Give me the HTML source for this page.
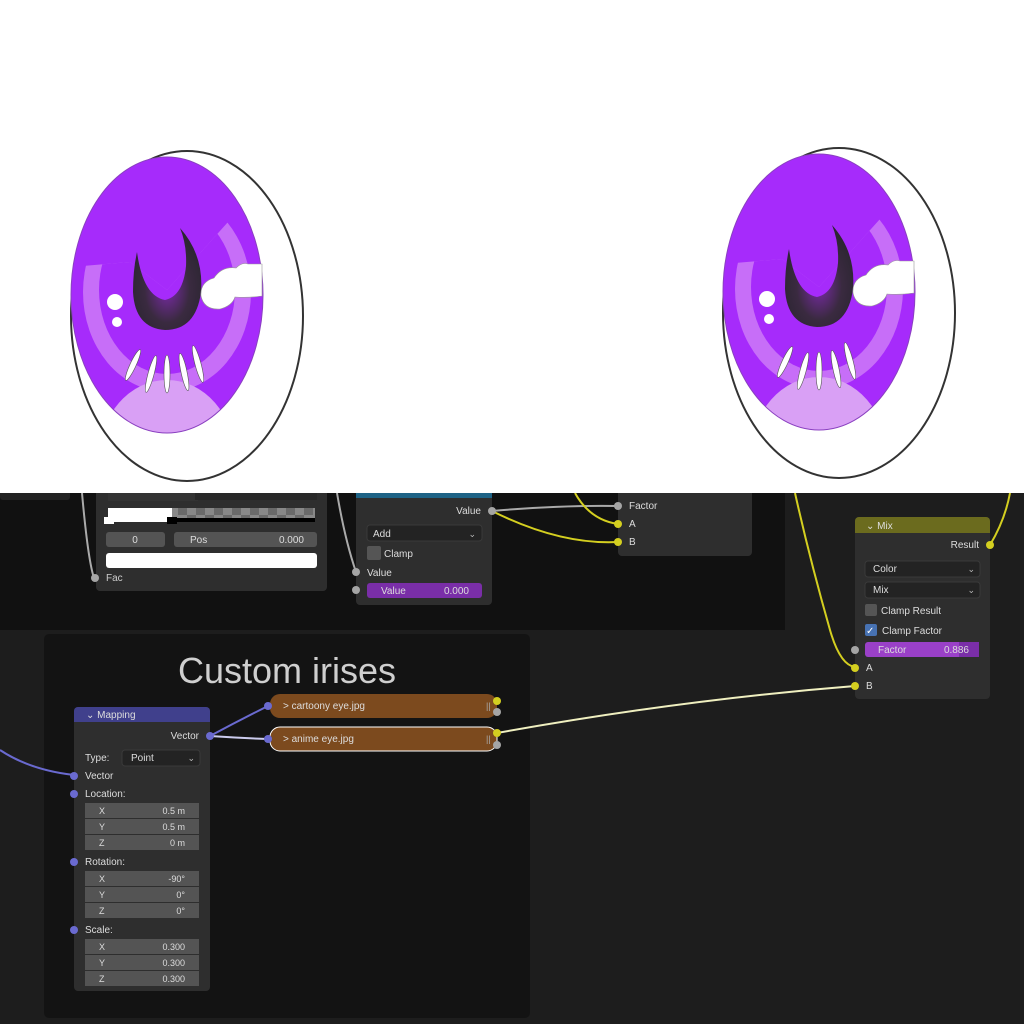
<!DOCTYPE html>
<html><head><meta charset="utf-8"><style>
html,body{margin:0;padding:0;background:#1d1d1d;}
svg{display:block;}
text{font-family:"Liberation Sans",sans-serif;}
</style></head><body>
<svg width="1024" height="1024" viewBox="0 0 1024 1024" xmlns="http://www.w3.org/2000/svg">
<defs>
<radialGradient id="pup" cx="0.5" cy="0.6" r="0.6">
<stop offset="0" stop-color="#7a2aa8"/><stop offset="0.55" stop-color="#3a2a40"/><stop offset="1" stop-color="#2a2530"/>
</radialGradient>
<clipPath id="irisclip"><ellipse cx="167" cy="295" rx="96" ry="138"/></clipPath>
<clipPath id="ringclip"><polygon points="60,268 130,262 167,290 228,222 262,222 262,440 60,440"/></clipPath>
<g id="eye">
<ellipse cx="187" cy="316" rx="116" ry="165" fill="#fff" stroke="#333" stroke-width="2"/>
<g clip-path="url(#irisclip)">
<rect x="60" y="150" width="205" height="290" fill="#a62bfb"/>
<g clip-path="url(#ringclip)">
<ellipse cx="167" cy="292" rx="84" ry="100" fill="#c76ef8"/>
<ellipse cx="167" cy="290" rx="68" ry="84" fill="#a62bfb"/>
</g>
<ellipse cx="167" cy="458" rx="68" ry="78" fill="#d9a0f5"/>
</g>
<ellipse cx="167" cy="295" rx="96" ry="138" fill="none" stroke="#8a40c0" stroke-width="1"/>
<path d="M180,228 Q204,255 201,292 Q196,330 165,330 Q135,328 133,292 Q133,270 137,252 Q143,296 165,300 Q183,296 186,266 Q187,245 180,228 Z" fill="url(#pup)"/>
<path d="M262,264 L248,264 Q242,262 236,268 Q222,266 214,278 Q200,282 201,296 Q204,310 220,309 Q232,306 235,297 Q248,298 262,296 Z" fill="#fff" stroke="#999" stroke-width="0.6"/>
<circle cx="115" cy="302" r="8" fill="#fff"/>
<circle cx="117" cy="322" r="5" fill="#fff"/>
<g fill="#fff" stroke="#555" stroke-width="0.6">
<ellipse cx="133" cy="365" rx="3" ry="17" transform="rotate(25 133 365)"/>
<ellipse cx="151" cy="374" rx="3" ry="19" transform="rotate(15 151 374)"/>
<ellipse cx="167" cy="374" rx="3" ry="19"/>
<ellipse cx="184" cy="372" rx="3" ry="19" transform="rotate(-12 184 372)"/>
<ellipse cx="198" cy="364" rx="3" ry="19" transform="rotate(-15 198 364)"/>
</g>
</g>
</defs>

<rect x="0" y="0" width="1024" height="1024" fill="#1d1d1d"/>
<rect x="0" y="480" width="785" height="150" fill="#111"/>
<rect x="0" y="480" width="70" height="20" rx="3" fill="#222"/>
<rect x="44" y="634" width="486" height="384" rx="5" fill="#131313"/>
<text x="287" y="683" font-size="36" fill="#cfcfcf" text-anchor="middle">Custom irises</text>

<path d="M82,493 Q88,560 94,578" stroke="#aaa" stroke-width="2" fill="none"/>
<path d="M337,493 Q345,540 356,572" stroke="#aaa" stroke-width="2" fill="none"/>
<path d="M492,511 Q560,505 618,506" stroke="#aaa" stroke-width="2" fill="none"/>
<path d="M492,511 Q560,545 618,542" stroke="#d4cf20" stroke-width="2" fill="none"/>
<path d="M575,493 Q590,520 618,524" stroke="#d4cf20" stroke-width="2" fill="none"/>
<path d="M795,493 Q810,560 830,630 Q840,665 855,667" stroke="#d4cf20" stroke-width="2" fill="none"/>
<path d="M990,545 Q1005,520 1010,493" stroke="#d4cf20" stroke-width="2" fill="none"/>
<path d="M497,733 Q680,700 855,686" stroke="#f0f0c0" stroke-width="2" fill="none"/>
<path d="M0,750 Q30,770 74,775" stroke="#6a6ad0" stroke-width="2" fill="none"/>
<path d="M210,736 Q240,720 268,706" stroke="#6a6ad0" stroke-width="2" fill="none"/>
<path d="M210,736 Q240,738 268,739" stroke="#ccccee" stroke-width="2" fill="none"/>

<rect x="96" y="480" width="231" height="111" rx="4" fill="#2e2e2e"/>
<rect x="108" y="493" width="90" height="8" fill="#333"/>
<rect x="255" y="486" width="62" height="14" fill="#282828"/>
<rect x="195" y="486" width="60" height="14" fill="#282828"/>
<rect x="108" y="508" width="207" height="14" fill="#888"/>
<g fill="#6a6a6a">
<rect x="178" y="508" width="9" height="7"/><rect x="196" y="508" width="9" height="7"/><rect x="214" y="508" width="9" height="7"/><rect x="232" y="508" width="9" height="7"/><rect x="250" y="508" width="9" height="7"/><rect x="268" y="508" width="9" height="7"/><rect x="286" y="508" width="9" height="7"/><rect x="304" y="508" width="9" height="7"/>
<rect x="187" y="515" width="9" height="7"/><rect x="205" y="515" width="9" height="7"/><rect x="223" y="515" width="9" height="7"/><rect x="241" y="515" width="9" height="7"/><rect x="259" y="515" width="9" height="7"/><rect x="277" y="515" width="9" height="7"/><rect x="295" y="515" width="9" height="7"/>
</g>
<rect x="108" y="508" width="64" height="14" fill="#fff"/>
<rect x="172" y="518" width="143" height="4" fill="#000"/>
<rect x="104" y="517" width="10" height="7" fill="#fff"/>
<rect x="167" y="517" width="10" height="7" fill="#000"/>
<rect x="106" y="532" width="59" height="15" rx="3" fill="#545454"/>
<text x="135" y="543" font-size="10" fill="#ddd" text-anchor="middle">0</text>
<rect x="174" y="532" width="143" height="15" rx="3" fill="#545454"/>
<text x="190" y="543" font-size="10" fill="#ddd">Pos</text>
<text x="304" y="543" font-size="10" fill="#ddd" text-anchor="end">0.000</text>
<rect x="106" y="553" width="211" height="15" rx="3" fill="#fff"/>
<circle cx="95" cy="578" r="4" fill="#a5a5a5"/>
<text x="106" y="581" font-size="10" fill="#ccc">Fac</text>

<rect x="356" y="480" width="136" height="125" rx="4" fill="#2e2e2e"/>
<rect x="356" y="480" width="136" height="18" fill="#1e6386"/>
<text x="481" y="514" font-size="10" fill="#ddd" text-anchor="end">Value</text>
<circle cx="492" cy="511" r="4" fill="#a5a5a5"/>
<rect x="367" y="525" width="115" height="16" rx="3" fill="#232323" stroke="#3a3a3a"/>
<text x="373" y="537" font-size="10" fill="#ddd">Add</text>
<text x="476" y="537" font-size="9" fill="#bbb" text-anchor="end">⌄</text>
<rect x="367" y="546" width="14" height="14" rx="2" fill="#555"/>
<text x="384" y="557" font-size="10" fill="#ddd">Clamp</text>
<circle cx="356" cy="572" r="4" fill="#a5a5a5"/>
<text x="367" y="576" font-size="10" fill="#ddd">Value</text>
<circle cx="356" cy="590" r="4" fill="#a5a5a5"/>
<rect x="367" y="583" width="115" height="15" rx="3" fill="#7a2ea8"/>
<text x="381" y="594" font-size="10" fill="#ddd">Value</text>
<text x="469" y="594" font-size="10" fill="#ddd" text-anchor="end">0.000</text>

<rect x="618" y="480" width="134" height="76" rx="4" fill="#2e2e2e"/>
<circle cx="618" cy="506" r="4" fill="#a5a5a5"/><text x="629" y="509" font-size="10" fill="#ddd">Factor</text>
<circle cx="618" cy="524" r="4" fill="#d4cf20"/><text x="629" y="527" font-size="10" fill="#ddd">A</text>
<circle cx="618" cy="542" r="4" fill="#d4cf20"/><text x="629" y="545" font-size="10" fill="#ddd">B</text>

<rect x="855" y="517" width="135" height="182" rx="4" fill="#2e2e2e"/>
<path d="M855,521 a4,4 0 0 1 4,-4 h127 a4,4 0 0 1 4,4 v12 h-135z" fill="#6b6b1e"/>
<text x="866" y="529" font-size="10" fill="#ddd">⌄ Mix</text>
<text x="979" y="548" font-size="10" fill="#ddd" text-anchor="end">Result</text>
<circle cx="990" cy="545" r="4" fill="#d4cf20"/>
<rect x="865" y="561" width="115" height="16" rx="3" fill="#232323" stroke="#3a3a3a"/>
<text x="873" y="572" font-size="10" fill="#ddd">Color</text><text x="975" y="572" font-size="9" fill="#bbb" text-anchor="end">⌄</text>
<rect x="865" y="582" width="115" height="16" rx="3" fill="#232323" stroke="#3a3a3a"/>
<text x="873" y="593" font-size="10" fill="#ddd">Mix</text><text x="975" y="593" font-size="9" fill="#bbb" text-anchor="end">⌄</text>
<rect x="865" y="604" width="12" height="12" rx="2" fill="#555"/>
<text x="881" y="614" font-size="10" fill="#ddd">Clamp Result</text>
<rect x="865" y="624" width="12" height="12" rx="2" fill="#4772b3"/>
<text x="866" y="634" font-size="10" fill="#fff">✓</text>
<text x="882" y="634" font-size="10" fill="#ddd">Clamp Factor</text>
<circle cx="855" cy="650" r="4" fill="#a5a5a5"/>
<rect x="865" y="642" width="114" height="15" rx="3" fill="#9a40c8"/>
<rect x="959" y="642" width="20" height="15" fill="#7a2ea8"/>
<text x="878" y="653" font-size="10" fill="#ddd">Factor</text>
<text x="969" y="653" font-size="10" fill="#ddd" text-anchor="end">0.886</text>
<circle cx="855" cy="668" r="4" fill="#d4cf20"/><text x="866" y="671" font-size="10" fill="#ddd">A</text>
<circle cx="855" cy="686" r="4" fill="#d4cf20"/><text x="866" y="689" font-size="10" fill="#ddd">B</text>

<rect x="270" y="694" width="227" height="24" rx="10" fill="#7c4a1e"/>
<text x="283" y="709" font-size="10" fill="#ddd">&gt; cartoony eye.jpg</text>
<text x="486" y="709" font-size="9" fill="#aaa">||</text>
<circle cx="268" cy="706" r="4" fill="#6a6ad0"/>
<circle cx="497" cy="701" r="4" fill="#d4cf20"/><circle cx="497" cy="712" r="4" fill="#a5a5a5"/>
<rect x="270" y="727" width="227" height="24" rx="10" fill="#7c4a1e" stroke="#fff" stroke-width="1"/>
<text x="283" y="742" font-size="10" fill="#ddd">&gt; anime eye.jpg</text>
<text x="486" y="742" font-size="9" fill="#aaa">||</text>
<circle cx="268" cy="739" r="4" fill="#6a6ad0"/>
<circle cx="497" cy="733" r="4" fill="#d4cf20"/><circle cx="497" cy="745" r="4" fill="#a5a5a5"/>

<rect x="74" y="707" width="136" height="284" rx="4" fill="#2e2e2e"/>
<path d="M74,711 a4,4 0 0 1 4,-4 h128 a4,4 0 0 1 4,4 v11 h-136z" fill="#40408c"/>
<text x="86" y="718" font-size="10" fill="#ddd">⌄ Mapping</text>
<text x="199" y="739" font-size="10" fill="#ddd" text-anchor="end">Vector</text>
<circle cx="210" cy="736" r="4" fill="#6a6ad0"/>
<text x="85" y="761" font-size="10" fill="#ddd">Type:</text>
<rect x="122" y="750" width="78" height="16" rx="3" fill="#232323" stroke="#3a3a3a"/>
<text x="131" y="761" font-size="10" fill="#ddd">Point</text><text x="195" y="761" font-size="9" fill="#bbb" text-anchor="end">⌄</text>
<circle cx="74" cy="776" r="4" fill="#6a6ad0"/><text x="85" y="779" font-size="10" fill="#ddd">Vector</text>
<circle cx="74" cy="794" r="4" fill="#6a6ad0"/><text x="85" y="797" font-size="10" fill="#ddd">Location:</text>
<g font-size="9" fill="#ddd">
<rect x="85" y="803" width="114" height="15" fill="#545454"/><rect x="85" y="819" width="114" height="15" fill="#545454"/><rect x="85" y="835" width="114" height="15" fill="#545454"/>
<text x="99" y="814">X</text><text x="185" y="814" text-anchor="end">0.5 m</text>
<text x="99" y="830">Y</text><text x="185" y="830" text-anchor="end">0.5 m</text>
<text x="99" y="846">Z</text><text x="185" y="846" text-anchor="end">0 m</text>
</g>
<circle cx="74" cy="862" r="4" fill="#6a6ad0"/><text x="85" y="865" font-size="10" fill="#ddd">Rotation:</text>
<g font-size="9" fill="#ddd">
<rect x="85" y="871" width="114" height="15" fill="#545454"/><rect x="85" y="887" width="114" height="15" fill="#545454"/><rect x="85" y="903" width="114" height="15" fill="#545454"/>
<text x="99" y="882">X</text><text x="185" y="882" text-anchor="end">-90°</text>
<text x="99" y="898">Y</text><text x="185" y="898" text-anchor="end">0°</text>
<text x="99" y="914">Z</text><text x="185" y="914" text-anchor="end">0°</text>
</g>
<circle cx="74" cy="930" r="4" fill="#6a6ad0"/><text x="85" y="933" font-size="10" fill="#ddd">Scale:</text>
<g font-size="9" fill="#ddd">
<rect x="85" y="939" width="114" height="15" fill="#545454"/><rect x="85" y="955" width="114" height="15" fill="#545454"/><rect x="85" y="971" width="114" height="15" fill="#545454"/>
<text x="99" y="950">X</text><text x="185" y="950" text-anchor="end">0.300</text>
<text x="99" y="966">Y</text><text x="185" y="966" text-anchor="end">0.300</text>
<text x="99" y="982">Z</text><text x="185" y="982" text-anchor="end">0.300</text>
</g>

<rect x="0" y="0" width="1024" height="493" fill="#fff"/>
<use href="#eye"/>
<use href="#eye" transform="translate(652,-3)"/>
</svg>
</body></html>
